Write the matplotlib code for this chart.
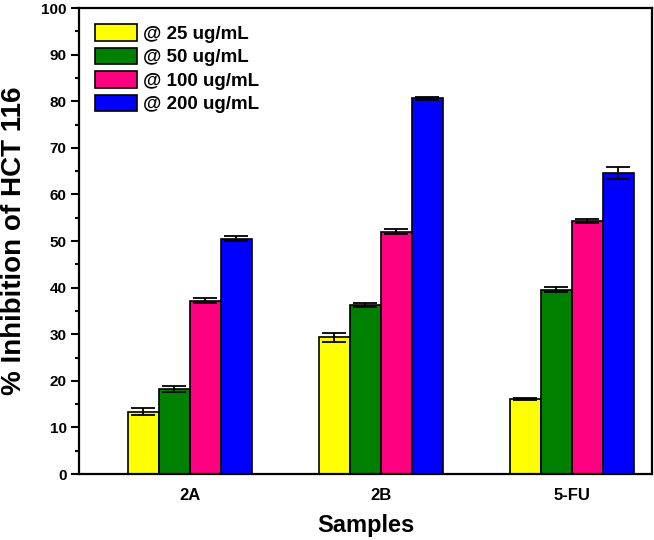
import numpy as np
import matplotlib
matplotlib.use('Agg')
import matplotlib.pyplot as plt
from matplotlib.ticker import MultipleLocator

plt.rcParams['font.family'] = ['Liberation Sans', 'DejaVu Sans']
plt.rcParams['font.weight'] = 'bold'

# 数据
samples = ['2A', '2B', '5-FU']
doses = ['@ 25 ug/mL', '@ 50 ug/mL', '@ 100 ug/mL', '@ 200 ug/mL']
inh_25 = [13.4, 29.3, 16.1]
inh_50 = [18.3, 36.3, 39.6]
inh_100 = [37.2, 52.0, 54.3]
inh_200 = [50.5, 80.6, 64.6]
err_25 = [0.7, 0.9, 0.15]
err_50 = [0.6, 0.5, 0.5]
err_100 = [0.5, 0.5, 0.5]
err_200 = [0.5, 0.4, 1.2]
colors = ['#FFFF00', '#008000', '#FF0080', '#0000FF']

values = [inh_25, inh_50, inh_100, inh_200]
errors = [err_25, err_50, err_100, err_200]

fig = plt.figure(figsize=(6.54, 5.40), dpi=100)
ax = fig.add_axes([0.1208, 0.1222, 0.8762, 0.8628])

x = np.arange(len(samples))
w = 0.162
for i in range(4):
    ax.bar(x + (i - 1.5) * w, values[i], w, color=colors[i], edgecolor='black',
           linewidth=1.2, label=doses[i], zorder=2)
    ax.errorbar(x + (i - 1.5) * w, values[i], yerr=errors[i], fmt='none',
                ecolor='black', elinewidth=1.3, capsize=8.5, capthick=1.3, zorder=3)

ax.set_xlim(-0.58, 2.42)
ax.set_ylim(0, 100)
ax.set_xticks(x)
ax.set_xticklabels(samples, fontsize=12, fontweight='bold')
ax.yaxis.set_major_locator(MultipleLocator(10))
ax.yaxis.set_minor_locator(MultipleLocator(5))
ax.tick_params(axis='y', which='major', direction='out', length=6, width=1.5,
               labelsize=11, pad=3)
ax.tick_params(axis='y', which='minor', direction='out', length=3, width=1.5)
ax.tick_params(axis='x', which='both', length=0, pad=10)
for lbl in ax.get_yticklabels():
    lbl.set_fontweight('bold')
for s in ax.spines.values():
    s.set_linewidth(1.6)

ax.set_xlabel('Samples', fontsize=17, fontweight='bold', labelpad=8)
ax.set_ylabel('% Inhibition of HCT 116', fontsize=20, fontweight='bold', labelpad=10)

leg = ax.legend(loc='upper left', bbox_to_anchor=(0.0, 1.0), frameon=False,
                prop={'size': 13.5, 'weight': 'bold'}, handlelength=2.24,
                handleheight=1.0, handletextpad=0.32, labelspacing=0.25,
                borderaxespad=0.45, borderpad=0.4)

fig.savefig('out.png', dpi=100)
